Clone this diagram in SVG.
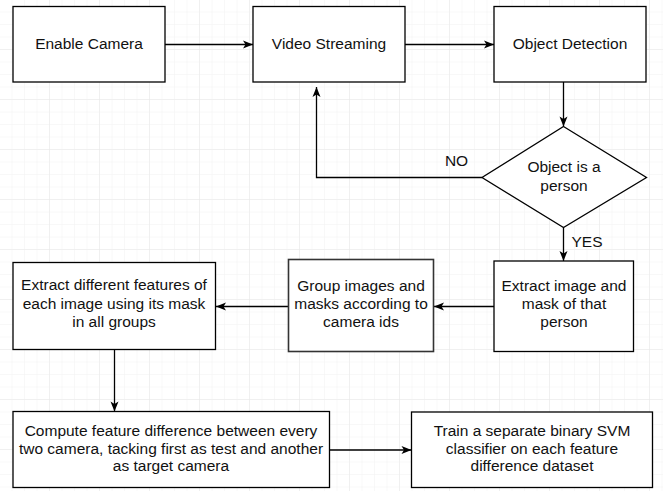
<svg xmlns="http://www.w3.org/2000/svg" width="663" height="491" viewBox="0 0 663 491">
<defs>
<pattern id="minor" width="12.5" height="12.5" patternUnits="userSpaceOnUse">
<path d="M12.5,0 V12.5 M0,12.5 H12.5" fill="none" stroke="#f2f2f2" stroke-width="1"/>
</pattern>
<pattern id="major" width="50" height="50" patternUnits="userSpaceOnUse">
<path d="M50,0 V50 M0,50 H50" fill="none" stroke="#e8e8e8" stroke-width="1"/>
</pattern>
<marker id="arr" viewBox="0 0 12 10" refX="11" refY="5" markerWidth="12" markerHeight="10" markerUnits="userSpaceOnUse" orient="auto">
<path d="M1,1 L11,5 L1,9 L3.5,5 z" fill="#000"/>
</marker>
<style>
.box{fill:#fff;stroke:#000;stroke-width:1.3}
.t{font-family:"Liberation Sans",Arial,sans-serif;font-size:15.5px;fill:#111;text-anchor:middle}
.lbl{font-family:"Liberation Sans",Arial,sans-serif;font-size:15.5px;fill:#111}
.c{fill:none;stroke:#000;stroke-width:1.3;marker-end:url(#arr)}
</style>
</defs>
<rect width="663" height="491" fill="#fff"/>
<rect width="663" height="491" fill="url(#minor)"/>
<rect width="663" height="491" fill="url(#major)"/>

<g id="connectors">
<path class="c" d="M165,44.5 H253"/>
<path class="c" d="M405,44.5 H494"/>
<path class="c" d="M563.5,82 V126.5"/>
<path class="c" d="M482,177.5 H316.5 V87"/>
<path class="c" d="M563.5,227.5 V261"/>
<path class="c" d="M494,306.5 H434"/>
<path class="c" d="M288,306.5 H216"/>
<path class="c" d="M114.5,349.5 V411.5"/>
<path class="c" d="M329,450 H411.5"/>
<text class="lbl" x="456.5" y="166" text-anchor="middle">NO</text>
<text class="lbl" x="571.5" y="246.5">YES</text>
</g>

<g id="enable-camera">
<rect class="box" x="13" y="6.5" width="152" height="75.5"/>
<text class="t" x="89" y="48.5">Enable Camera</text>
</g>
<g id="video-streaming">
<rect class="box" x="253" y="6.5" width="152" height="75.5"/>
<text class="t" x="329" y="48.5">Video Streaming</text>
</g>
<g id="object-detection">
<rect class="box" x="494" y="6.5" width="152" height="75.5"/>
<text class="t" x="570" y="48.5">Object Detection</text>
</g>
<g id="object-is-person">
<polygon class="box" points="563.5,126.5 646.5,177.5 563.5,227.5 482,177.5"/>
<text class="t" x="564" y="172">Object is a</text>
<text class="t" x="564" y="190.5">person</text>
</g>
<g id="extract-image">
<rect class="box" x="494" y="261" width="139.5" height="90.5"/>
<text class="t" x="564" y="291">Extract image and</text>
<text class="t" x="564" y="309">mask of that</text>
<text class="t" x="564" y="327">person</text>
</g>
<g id="group-images">
<rect class="box" x="288.5" y="259.5" width="145" height="92" style="stroke:#333;stroke-width:1.6"/>
<text class="t" x="361" y="290.5">Group images and</text>
<text class="t" x="361" y="308.5">masks according to</text>
<text class="t" x="361" y="326.5">camera ids</text>
</g>
<g id="extract-features">
<rect class="box" x="13" y="262.5" width="202.5" height="87"/>
<text class="t" x="114" y="290">Extract different features of</text>
<text class="t" x="114" y="308.5">each image using its mask</text>
<text class="t" x="114" y="327">in all groups</text>
</g>
<g id="compute-difference">
<rect class="box" x="13" y="411.5" width="316.5" height="76"/>
<text class="t" x="171" y="435.5">Compute feature difference between every</text>
<text class="t" x="171" y="453.5">two camera, tacking first as test and another</text>
<text class="t" x="171" y="471">as target camera</text>
</g>
<g id="train-svm">
<rect class="box" x="411.5" y="412" width="241" height="75.5"/>
<text class="t" x="532" y="435.5">Train a separate binary SVM</text>
<text class="t" x="532" y="453.5">classifier on each feature</text>
<text class="t" x="532" y="471">difference dataset</text>
</g>
</svg>
